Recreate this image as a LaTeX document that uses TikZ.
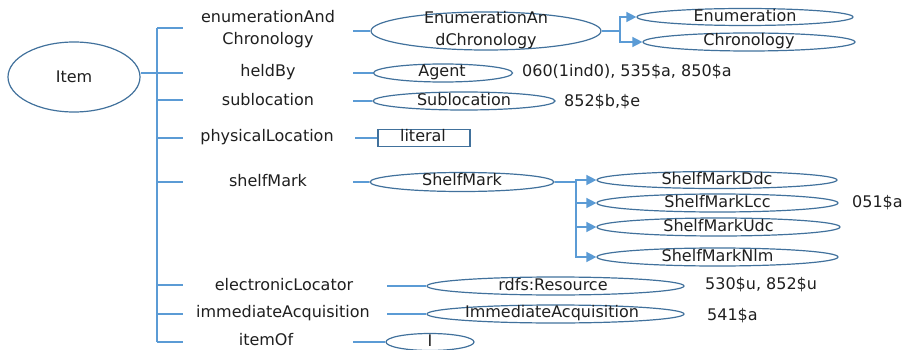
\documentclass[tikz,border=0pt]{standalone}
\usepackage{fontspec}
\setmainfont{DejaVu Sans}
\usetikzlibrary{shapes.geometric, arrows.meta}
\definecolor{lnk}{HTML}{5B9BD5}
\definecolor{edg}{HTML}{41719C}
\definecolor{txc}{HTML}{1F1F1F}
\begin{document}
\begin{tikzpicture}[x=1pt,y=-1pt,
  txt/.style={font=\fontsize{16}{22}\selectfont, text=txc, inner sep=0pt, align=center},
  ell/.style={draw=edg, line width=1.2pt, ellipse, inner sep=0pt},
  box/.style={draw=edg, line width=1.2pt, rectangle, inner sep=0pt},
  link/.style={draw=lnk, line width=1.4pt},
  arr/.style={draw=lnk, line width=1.4pt, -{Triangle[length=10pt,width=10pt]}}
]
\useasboundingbox (0,0) rectangle (904,350);

% Item
\node[ell, minimum width=132pt, minimum height=70pt] (item) at (74,77) {};
\node[txt] at (item) {Item};

% bus
\coordinate (bt) at (157,28);
\coordinate (bb) at (157,342);
\draw[link] (bt) -- (bb);

% property labels
\node[txt] (p1) at (268,29) {enumerationAnd\\Chronology};
\node[txt] (p2) at (268,72) {heldBy};
\node[txt] (p3) at (268,100) {sublocation};
\node[txt] (p4) at (267,137) {physicalLocation};
\node[txt] (p5) at (268,181) {shelfMark};
\node[txt] (p6) at (284,285) {electronicLocator};
\node[txt] (p7) at (283,313) {immediateAcquisition};
\node[txt] (p8) at (266,340) {itemOf};

% left stubs
\foreach \i/\y in {1/28,2/73,3/100,4/138,5/182,6/285,7/314,8/342}{
  \coordinate (b\i) at (157,\y);
  \coordinate (s\i) at (183,\y);
  \draw[link] (b\i) -- (s\i);
}
\draw[link] (item.east |- b2) -- (b2);

% range nodes
\node[ell, minimum width=230pt, minimum height=38pt] (eac) at (486,31) {};
\node[txt] at (486,30) {EnumerationAn\\dChronology};
\node[ell, minimum width=216pt, minimum height=17pt] (enum) at (745,17) {};
\node[txt] at (745,16) {Enumeration};
\node[ell, minimum width=212pt, minimum height=18pt] (chron) at (749,42) {};
\node[txt] at (749,41) {Chronology};

\node[ell, minimum width=139pt, minimum height=18pt] (agent) at (443,73) {};
\node[txt] at (442,72) {Agent};
\node[txt, anchor=west] (c1) at (522,72) {060(1ind0), 535\$a, 850\$a};

\node[ell, minimum width=182pt, minimum height=18pt] (subl) at (464,101) {};
\node[txt] at (464,100) {Sublocation};
\node[txt, anchor=west] (c2) at (564,102) {852\$b,\$e};

\node[box, minimum width=92pt, minimum height=17pt] (lit) at (424,138) {};
\node[txt] at (423,136) {literal};

\node[ell, minimum width=184pt, minimum height=19pt] (sm) at (462,182) {};
\node[txt] at (462,180) {ShelfMark};

\node[ell, minimum width=240pt, minimum height=17pt] (ddc) at (717,180) {};
\node[txt] at (717,179) {ShelfMarkDdc};
\node[ell, minimum width=241pt, minimum height=18pt] (lcc) at (717.5,203) {};
\node[txt] at (717.5,202) {ShelfMarkLcc};
\node[ell, minimum width=243pt, minimum height=18pt] (udc) at (718.5,227) {};
\node[txt] at (718.5,226) {ShelfMarkUdc};
\node[ell, minimum width=241pt, minimum height=18pt] (nlm) at (717.5,257) {};
\node[txt] at (717.5,256) {ShelfMarkNlm};
\node[txt, anchor=west] (c3) at (852,203) {051\$a};

\node[ell, minimum width=257pt, minimum height=18pt] (res) at (555.5,286) {};
\node[txt] at (553,285) {rdfs:Resource};
\node[txt, anchor=west] (c4) at (705,285) {530\$u, 852\$u};

\node[ell, minimum width=257pt, minimum height=18pt] (imm) at (555.5,314) {};
\node[txt] at (552,313) {ImmediateAcquisition};
\node[txt, anchor=west] (c5) at (707,316) {541\$a};

\node[ell, minimum width=88pt, minimum height=17pt] (inst) at (430,342) {};
\node[txt] at (430,341) {I};

% right stubs
\coordinate (r1) at (353,31);
\coordinate (r2) at (353,73);
\coordinate (r3) at (353,101);
\coordinate (r4) at (355,138);
\coordinate (r5) at (353,182);
\coordinate (r6) at (387,286);
\coordinate (r7) at (387,314);
\coordinate (r8) at (353,342);
\draw[link] (r1) -- (eac.west);
\draw[link] (r2) -- (agent.west);
\draw[link] (r3) -- (subl.west);
\draw[link] (r4) -- (lit.west);
\draw[link] (r5) -- (sm.west);
\draw[link] (r6) -- (res.west);
\draw[link] (r7) -- (imm.west);
\draw[link] (r8) -- (inst.west);

% subclass arrows
\coordinate (jE) at (620,31);
\draw[link] (eac.east) -- (jE);
\draw[arr] (jE) |- (enum.west);
\draw[arr] (jE) |- (chron.west);

\coordinate (jS) at (576,182);
\draw[link] (sm.east) -- (jS);
\draw[arr] (jS) |- (ddc.west);
\draw[arr] (jS) |- (lcc.west);
\draw[arr] (jS) |- (udc.west);
\draw[arr] (jS) |- (nlm.west);
\end{tikzpicture}
\end{document}
